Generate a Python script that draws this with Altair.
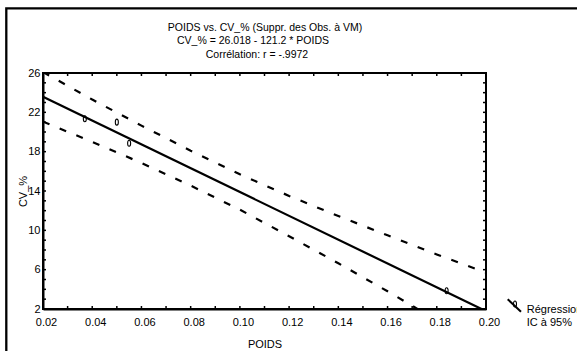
import altair as alt
import pandas as pd

FONT = "Liberation Sans, Arial, Helvetica, sans-serif"

# ---- data ----
obs_poids = [0.037, 0.050, 0.055, 0.184]
obs_cv = [21.35, 21.0, 18.85, 3.85]

reg_poids = [0.02, 0.20]
reg_cv = [23.59, 1.78]

ci_poids = [0.02, 0.04, 0.06, 0.08, 0.10, 0.12, 0.14, 0.16, 0.18, 0.20]
ci_upper = [26.1, 23.3, 20.65, 18.1, 15.7, 13.5, 11.45, 9.5, 7.55, 5.7]
ci_lower = [21.05, 19.0, 16.85, 14.55, 12.1, 9.4, 6.65, 3.8, 0.85, -2.1]

x_ticks = [0.02, 0.04, 0.06, 0.08, 0.10, 0.12, 0.14, 0.16, 0.18, 0.20]
x_minor = [0.02, 0.03, 0.04, 0.05, 0.06, 0.07, 0.08, 0.09, 0.10, 0.11,
           0.12, 0.13, 0.14, 0.15, 0.16, 0.17, 0.18, 0.19, 0.20]
y_ticks = [2, 6, 10, 14, 18, 22, 26]
y_minor = list(range(2, 27))

title_lines = ["POIDS vs. CV_% (Suppr. des Obs. à VM)",
               "CV_% = 26.018 - 121.2 * POIDS",
               "Corrélation: r = -.9972"]
legend_lines = ["Régression", "IC à 95%"]

W, H = 443, 236

df_obs = pd.DataFrame({"POIDS": obs_poids, "CV": obs_cv})
df_reg = pd.DataFrame({"POIDS": reg_poids, "CV": reg_cv})
df_ci = pd.DataFrame({"POIDS": ci_poids, "up": ci_upper, "lo": ci_lower})
df_xm = pd.DataFrame({"POIDS": x_minor})
df_ym = pd.DataFrame({"CV": y_minor})
df_one = pd.DataFrame({"a": [0]})

xscale = alt.Scale(domain=[0.02, 0.20], nice=False, zero=False)
yscale = alt.Scale(domain=[2, 26], nice=False, zero=False)

xaxis = alt.Axis(values=x_ticks, format=".2f", title="POIDS", tickSize=0,
                 labelPadding=7, labelOffset=3, labelFlush=False, grid=False,
                 titleY=35, titleBaseline="middle")
yaxis = alt.Axis(values=y_ticks, title="CV_%", tickSize=0, labelPadding=3,
                 labelFlush=False, grid=False, titleX=-20, titleY=118,
                 titleBaseline="middle", titleAngle=270)

X = lambda f: alt.X(f"{f}:Q", scale=xscale, axis=xaxis)
Y = lambda f: alt.Y(f"{f}:Q", scale=yscale, axis=yaxis)

ellipse = "M0,-1C0.67,-1 0.67,1 0,1C-0.67,1 -0.67,-1 0,-1Z"

dash = dict(color="black", strokeWidth=2.2, strokeDash=[7, 11], clip=True)

upper = alt.Chart(df_ci).mark_line(**dash).encode(x=X("POIDS"), y=Y("up"))
lower = alt.Chart(df_ci).mark_line(**dash).encode(x=X("POIDS"), y=Y("lo"))
reg = alt.Chart(df_reg).mark_line(color="black", strokeWidth=2.2, clip=True).encode(
    x=X("POIDS"), y=Y("CV"))
pts = alt.Chart(df_obs).mark_point(shape=ellipse, size=36, filled=False,
                                   color="black", strokeWidth=1.1, opacity=1).encode(
    x=X("POIDS"), y=Y("CV"))

tick_style = dict(color="black", strokeWidth=1.5)
tb = alt.Chart(df_xm).mark_rule(**tick_style).encode(
    x=X("POIDS"), y=alt.value(H), y2=alt.value(H - 3))
tt = alt.Chart(df_xm).mark_rule(**tick_style).encode(
    x=X("POIDS"), y=alt.value(0), y2=alt.value(3))
tl = alt.Chart(df_ym).mark_rule(**tick_style).encode(
    y=Y("CV"), x=alt.value(0), x2=alt.value(3))
tr = alt.Chart(df_ym).mark_rule(**tick_style).encode(
    y=Y("CV"), x=alt.value(W), x2=alt.value(W - 3))

# title block (three lines above the plot)
title_pos = [(222, -42.3), (210, -28.6), (214, -14.9)]
title_layers = [
    alt.Chart(df_one).mark_text(text=t, align="center", baseline="alphabetic",
                                font=FONT, fontSize=10.5, color="black").encode(
        x=alt.value(px), y=alt.value(py))
    for t, (px, py) in zip(title_lines, title_pos)
]

# legend (outside the plot, to the right)
leg_line = alt.Chart(df_one).mark_rule(color="black", strokeWidth=2).encode(
    x=alt.value(464.7), y=alt.value(226.3), x2=alt.value(478), y2=alt.value(238.7))
leg_pt = alt.Chart(df_one).mark_point(shape=ellipse, size=36, filled=False,
                                      color="black", strokeWidth=1.1, opacity=1).encode(
    x=alt.value(472), y=alt.value(231))
leg_txt = alt.Chart(df_one).mark_text(text=legend_lines, align="left",
                                      baseline="alphabetic", font=FONT, fontSize=11,
                                      lineHeight=13, color="black").encode(
    x=alt.value(483.7), y=alt.value(240))

frame = alt.Chart(df_one).mark_rect(fillOpacity=0, stroke="black", strokeWidth=2.3).encode(
    x=alt.value(-36.7), y=alt.value(-64.7), x2=alt.value(800), y2=alt.value(500))

chart = alt.layer(
    frame, upper, lower, reg, pts, tb, tt, tl, tr, *title_layers,
    leg_line, leg_pt, leg_txt
).properties(
    width=W, height=H,
    autosize=alt.AutoSizeParams(type="none"),
    padding={"left": 43, "top": 73, "right": 577 - 43 - W, "bottom": 351 - 73 - H},
    background="white",
).configure_view(
    stroke="black", strokeWidth=2
).configure_axis(
    domain=True, domainColor="black", domainWidth=2,
    labelFont=FONT, labelFontSize=11, labelColor="black",
    titleFont=FONT, titleFontSize=11, titleColor="black", titleFontWeight="normal",
)

chart.save("out.html", embed_options={"renderer": "svg", "actions": False})
